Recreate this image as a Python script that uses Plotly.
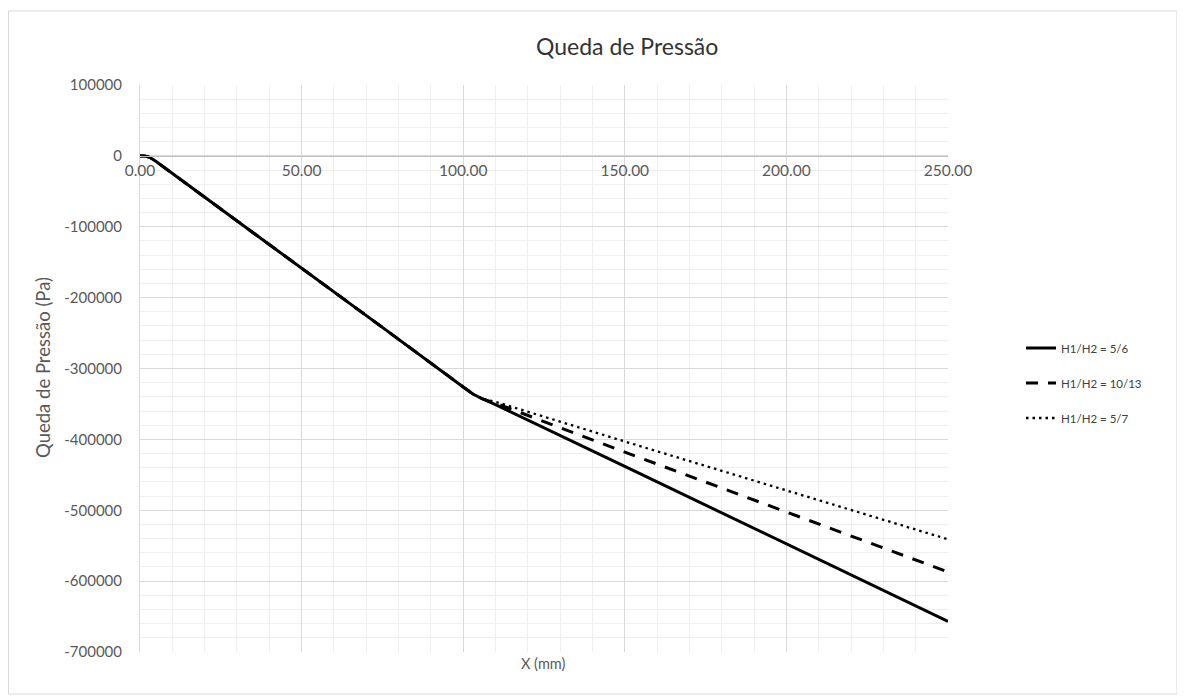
import plotly.graph_objects as go

# page body has an 8px margin: design in screen pixels, then shift by OFF
OFF = 8
SW, SH = 1185, 698          # screen size
W, H = SW - OFF, SH - OFF   # figure size

# ---- data ----
x_common = [0, 1.5, 3, 5, 25, 50, 75, 100, 103, 106]
y_common = [0, 0, -2000, -8000, -75000, -158000, -242000, -326000, -336000, -343000]

x_tail = [110, 150, 200, 250]
y_tail_56 = [-351000, -438000, -548000, -657000]
y_tail_1013 = [-349000, -418000, -502000, -587000]
y_tail_57 = [-347000, -403000, -472000, -541000]

series_names = ["H1/H2 = 5/6", "H1/H2 = 10/13", "H1/H2 = 5/7"]

y_tick_vals = [100000, 0, -100000, -200000, -300000, -400000, -500000, -600000, -700000]
y_tick_text = ["100000", "0", "-100000", "-200000", "-300000", "-400000", "-500000", "-600000", "-700000"]
x_tick_vals = [0, 50, 100, 150, 200, 250]
x_tick_text = ["0.00", "50.00", "100.00", "150.00", "200.00", "250.00"]

title_text = "Queda de Pressão"
x_title = "X (mm)"
y_title = "Queda de Pressão (Pa)"


def px(x):
    return (x - OFF) / W


def py(y):
    return 1 - (y - OFF) / H


# ---- layout geometry (screen pixels) ----
PX0, PX1 = 140, 948
PY0, PY1 = 85, 652
xd = [px(PX0), px(PX1)]
yd = [py(PY1), py(PY0)]
YMIN, YMAX = -700000, 100000
zero_pos = yd[0] + (0 - YMIN) / (YMAX - YMIN) * (yd[1] - yd[0])

FONT = "Lato, 'Open Sans', sans-serif"
TICKC = "#595959"

fig = go.Figure()
styles = [
    dict(color="black", width=3, dash="solid"),
    dict(color="black", width=3, dash="12px,10px"),
    dict(color="black", width=2.3, dash="2.5px,4px"),
]
tails = [y_tail_56, y_tail_1013, y_tail_57]
legends = ["legend", "legend2", "legend3"]
for name, tail, st, lg in zip(series_names, tails, styles, legends):
    fig.add_trace(go.Scatter(
        x=x_common + x_tail, y=y_common + tail, mode="lines",
        name=name, line=st, legend=lg,
    ))

leg_common = dict(
    x=px(1021), xanchor="left", yanchor="middle",
    font=dict(family=FONT, size=11.5, color="#404040"),
    bgcolor="rgba(0,0,0,0)",
)
fig.update_layout(
    width=W, height=H,
    margin=dict(l=0, r=0, t=0, b=0, autoexpand=False),
    paper_bgcolor="white", plot_bgcolor="white",
    showlegend=True,
    legend=dict(y=py(348), **leg_common),
    legend2=dict(y=py(383), **leg_common),
    legend3=dict(y=py(418), **leg_common),
    font=dict(family=FONT, color=TICKC),
    xaxis=dict(
        domain=xd, range=[0, 250], anchor="free", position=zero_pos,
        tickvals=x_tick_vals, ticktext=x_tick_text,
        tickfont=dict(family=FONT, size=15.5, color=TICKC),
        showgrid=True, gridcolor="#d9d9d9", gridwidth=1,
        minor=dict(dtick=10, showgrid=True, gridcolor="#efefef", gridwidth=1),
        showline=True, linecolor="#bfbfbf", linewidth=1,
        zeroline=False, ticks="", ticklabelstandoff=1, automargin=False,
    ),
    yaxis=dict(
        domain=yd, range=[YMIN, YMAX],
        tickvals=y_tick_vals, ticktext=y_tick_text,
        tickfont=dict(family=FONT, size=15, color=TICKC),
        showgrid=True, gridcolor="#d9d9d9", gridwidth=1,
        minor=dict(dtick=20000, showgrid=True, gridcolor="#efefef", gridwidth=1),
        showline=True, linecolor="#d9d9d9", linewidth=1,
        zeroline=False, ticks="", ticklabelstandoff=14, automargin=False,
    ),
    shapes=[dict(
        type="rect", xref="paper", yref="paper",
        x0=px(8.5), x1=px(1177), y0=py(694), y1=py(11),
        line=dict(color="#d9d9d9", width=1), fillcolor="rgba(0,0,0,0)", layer="below",
    )],
    annotations=[
        dict(text=title_text, x=px(627), y=py(46), xref="paper", yref="paper",
             showarrow=False, xanchor="center", yanchor="middle",
             font=dict(family=FONT, size=23, color="#333333")),
        dict(text=x_title, x=px(543), y=py(663), xref="paper", yref="paper",
             showarrow=False, xanchor="center", yanchor="middle",
             font=dict(family=FONT, size=14.5, color=TICKC)),
        dict(text=y_title, x=px(43), y=py(368), xref="paper", yref="paper",
             showarrow=False, xanchor="center", yanchor="middle", textangle=-90,
             font=dict(family=FONT, size=18.5, color=TICKC)),
    ],
)

fig.write_html("out.html")
